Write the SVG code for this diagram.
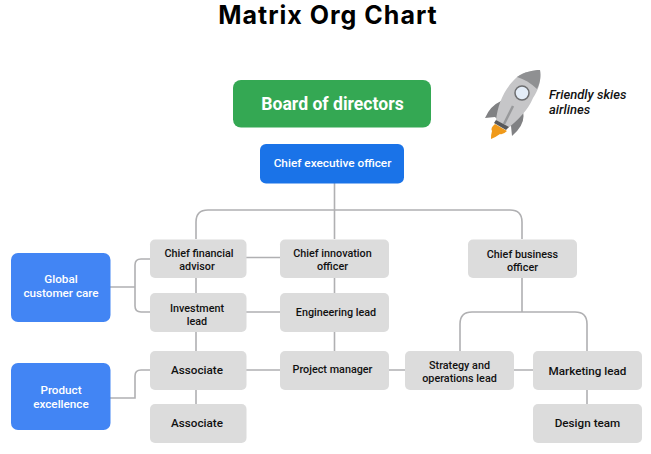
<svg xmlns="http://www.w3.org/2000/svg" width="651" height="454" viewBox="0 0 651 454">
<style>
text{font-family:Roboto,"Liberation Sans",sans-serif;font-weight:500;text-anchor:middle}
.g{fill:#dcdcdc}
.b{fill:#4285f4}
.l{font-size:10.8px;fill:#111}
.m{font-size:11.7px;fill:#111}
.w{font-size:11.7px;fill:#fff}
.c{fill:none;stroke:#b0b0b2;stroke-width:1.6}
</style>
<rect width="651" height="454" fill="#fff"/>
<text x="328" y="24.300" style="font-family:Inter,'Liberation Sans',sans-serif;font-size:25px;letter-spacing:1px;font-weight:700;fill:#000">Matrix Org Chart</text>
<g id="connectors" class="c">
<path d="M334.500 183V239M196 239V222Q196 210 208 210H510Q522 210 522 222V239"/>
<path d="M196 278V293M196 332V351M196 390V404M334.500 278V293M334.500 332V351"/>
<path d="M246 257.500H280M246 312H280M246 370H280M389 370H405M514 370H533M587 390V404"/>
<path d="M522 278V312M460 351V324Q460 312 472 312H575Q587 312 587 324V351"/>
<path d="M110 287H135M150 259H141Q135 259 135 265V306Q135 312 141 312H150"/>
<path d="M110 398H135V376Q135 370 141 370H150"/>
</g>
<g id="board"><rect x="233" y="80" width="198" height="47.500" rx="8" fill="#34a853"/><text x="332.500" y="109.500" style="font-size:17.600px;font-weight:700;fill:#fff">Board of directors</text></g>
<g id="ceo"><rect x="260" y="144" width="144" height="39.500" rx="6" fill="#1a73e8"/><text x="332.500" y="167" style="font-size:11.800px;fill:#fff">Chief executive officer</text></g>
<g id="cfa"><rect class="g" x="150" y="239.500" width="96.500" height="38.500" rx="5"/><text x="199" y="257" class="l">Chief financial</text><text x="197" y="270" class="l">advisor</text></g>
<g id="investment"><rect class="g" x="150" y="293" width="96.500" height="39" rx="5"/><text x="197" y="311.500" class="l">Investment</text><text x="197" y="324.500" class="l">lead</text></g>
<g id="associate1"><rect class="g" x="150" y="351" width="96.500" height="39" rx="5"/><text x="197" y="374" class="m">Associate</text></g>
<g id="associate2"><rect class="g" x="150" y="404" width="96.500" height="39" rx="5"/><text x="197" y="426.500" class="m">Associate</text></g>
<g id="cio"><rect class="g" x="280" y="239.500" width="109" height="38.500" rx="5"/><text x="332.500" y="257" class="l">Chief innovation</text><text x="332.500" y="270" class="l">officer</text></g>
<g id="engineering"><rect class="g" x="280" y="293" width="109" height="39" rx="5"/><text x="336" y="316" class="l">Engineering lead</text></g>
<g id="pm"><rect class="g" x="280" y="351" width="109" height="39" rx="5"/><text x="332.500" y="373" class="l">Project manager</text></g>
<g id="cbo"><rect class="g" x="468" y="239.500" width="109" height="38.500" rx="5"/><text x="522.500" y="258" class="l">Chief business</text><text x="522.500" y="271" class="l">officer</text></g>
<g id="strategy"><rect class="g" x="405" y="351" width="109" height="39" rx="5"/><text x="459.500" y="369" class="l">Strategy and</text><text x="459.500" y="382" class="l">operations lead</text></g>
<g id="marketing"><rect class="g" x="533" y="351" width="109" height="39" rx="5"/><text x="587.500" y="375" class="m">Marketing lead</text></g>
<g id="design"><rect class="g" x="533" y="404" width="109" height="39" rx="5"/><text x="587.500" y="427" class="m">Design team</text></g>
<g id="global"><rect class="b" x="11" y="253" width="99.500" height="69" rx="7"/><text x="61" y="283" class="w">Global</text><text x="61" y="297" class="w">customer care</text></g>
<g id="product"><rect class="b" x="11" y="363" width="99.500" height="67" rx="7"/><text x="61" y="394" class="w">Product</text><text x="61" y="408" class="w">excellence</text></g>
<g id="logo">
<path d="M501 101Q490 106 485 118L495 117L499 121Z" fill="#808183"/>
<path d="M523 112Q526 124 512 136L511 126L507 127Z" fill="#808183"/>
<path d="M495 124L507 131Q503 135 500 134Q496 137 491 139Q491 134 492 131Q490 128 495 124Z" fill="#f09a1a"/>
<path d="M496 120C498 105 503 90 517 77C524 72 533 70 540 70C541 78 540 88 533 98C528 110 518 120 508 128Z" fill="#c6c6c8"/>
<path d="M517 77C524 72 533 70 540 70C541 76 540.500 82 537 89C531 83 524 79 517 77Z" fill="#8f9092"/>
<path d="M496 120L509 127L506 130L494 123Z" fill="#58595b"/>
<circle cx="522" cy="93" r="7" fill="#e4edf8" stroke="#6d6e70" stroke-width="1.500"/>
<path d="M504 124L513 106" stroke="#98999b" stroke-width="2.500" fill="none"/>
</g>
<g id="company" style="font-size:13px;font-style:italic;font-weight:700"><text x="549" y="99" style="text-anchor:start;fill:#111">Friendly skies</text><text x="549" y="114" style="text-anchor:start;fill:#111">airlines</text></g>
</svg>
